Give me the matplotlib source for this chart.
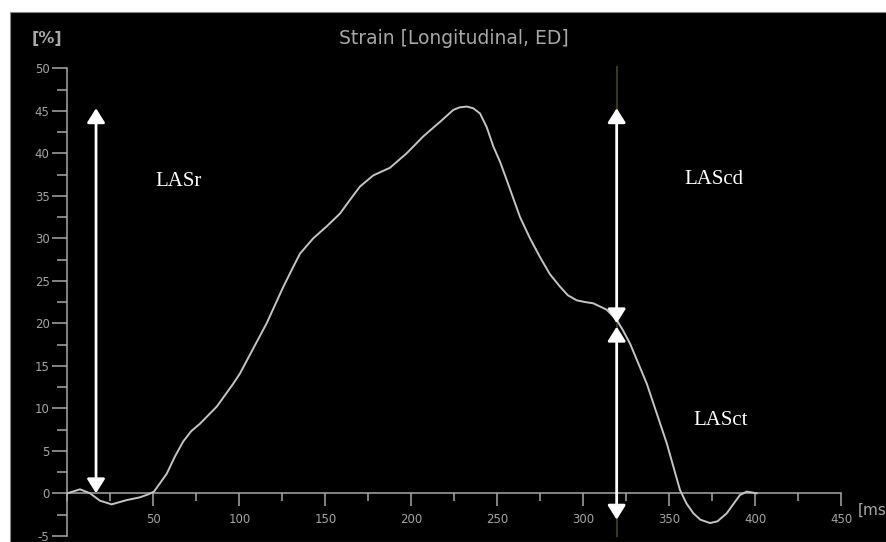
import matplotlib
matplotlib.use("Agg")
import matplotlib.pyplot as plt
from matplotlib.patches import Rectangle
from matplotlib.ticker import MultipleLocator

# ---- data ----
time_ms = [0, 7.4, 13.2, 19, 25.8, 34.5, 42.3, 47.1, 50.4, 57.8, 62.5, 67.4,
           72, 77.2, 86.9, 96.5, 100.4, 108, 115.9, 125.6, 131, 135.3, 143,
           150.8, 158.5, 165, 170.2, 177.9, 187.6, 197.3, 207, 216.7, 224.4,
           228, 232.2, 236, 239.9, 243.8, 247.7, 251.6, 255.4, 263.2, 269,
           274.8, 280.5, 286.5, 291, 296.2, 301, 305.8, 309.5, 313.6, 319.4,
           323, 327.2, 336.9, 348.5, 356.2, 360, 364, 368, 373.7, 378, 383.4,
           387.5, 391.1, 395, 400.8]
strain_pct = [0, 0.47, 0, -0.87, -1.3, -0.8, -0.47, -0.12, 0.2, 2.3, 4.3, 6.1,
              7.3, 8.2, 10.2, 12.9, 14.1, 17, 20, 24.3, 26.5, 28.2, 30.0,
              31.4, 32.9, 34.7, 36.1, 37.4, 38.3, 40.0, 42.0, 43.7, 45.1,
              45.4, 45.5, 45.3, 44.7, 43.1, 40.8, 39.0, 36.9, 32.5, 30.0,
              27.8, 25.8, 24.3, 23.3, 22.7, 22.5, 22.35, 22.0, 21.6, 20.4,
              19.2, 17.6, 12.9, 5.9, 0.4, -1.2, -2.35, -3.1, -3.5, -3.3, -2.35,
              -1.2, -0.2, 0.2, 0]

x_ticks = [50, 100, 150, 200, 250, 300, 350, 400, 450]
y_ticks = [-5, 0, 5, 10, 15, 20, 25, 30, 35, 40, 45, 50]

# measurement markers: (time, from strain, to strain)
lasr = (16.7, 0.0, 45.3)
lascd = (319.4, 20.0, 45.3)
lasct = (319.4, -3.1, 19.6)
marker_time = 319.4

title = "Strain [Longitudinal, ED]"
y_unit = "[%]"
x_unit = "[ms"
labels = ["LASr", "LAScd", "LASct"]

# ---- figure ----
W, H = 887, 542
fig = plt.figure(figsize=(W / 100, H / 100), dpi=100)
fig.patch.set_facecolor("white")
fig.add_artist(Rectangle((10 / W, 0), 1 - 10 / W, 1 - 12 / H,
                         transform=fig.transFigure, facecolor="black",
                         edgecolor="#888888", lw=0.8, zorder=0))

ax = fig.add_axes([67.3 / W, (H - 535.8) / H, 774 / W, 467.5 / H])
ax.set_facecolor("none")
ax.set_xlim(0, 450)
ax.set_ylim(-5, 50)

axis_col = "#a8a8a8"
lab_col = "#a4a4a4"
for s in ["top", "right"]:
    ax.spines[s].set_visible(False)
ax.spines["left"].set_color(axis_col)
ax.spines["left"].set_linewidth(1.1)
ax.spines["bottom"].set_position(("data", 0))
ax.spines["bottom"].set_color(axis_col)
ax.spines["bottom"].set_linewidth(1.1)

ax.set_xticks(x_ticks)
ax.set_xticklabels([str(v) for v in x_ticks])
ax.xaxis.set_minor_locator(MultipleLocator(25))
ax.set_yticks(y_ticks)
ax.set_yticklabels([str(v) for v in y_ticks])
ax.yaxis.set_minor_locator(MultipleLocator(2.5))

ax.tick_params(axis="x", which="major", direction="out", length=9.4, width=1.1,
               color=axis_col, labelcolor=lab_col, labelsize=8.5, pad=4.5)
ax.tick_params(axis="x", which="minor", direction="out", length=5.8, width=1.1,
               color=axis_col)
ax.tick_params(axis="y", which="major", direction="out", length=10.8, width=1.1,
               color=axis_col, labelcolor=lab_col, labelsize=8.5, pad=2)
ax.tick_params(axis="y", which="minor", direction="out", length=7.2, width=1.1,
               color=axis_col)

# faint vertical marker line
ax.plot([marker_time, marker_time], [-5, 50.2], color="#3a3818", lw=1.5,
        zorder=1, clip_on=False)

# strain curve
ax.plot(time_ms, strain_pct, color="#c4c4c4", lw=1.4, zorder=3,
        solid_joinstyle="round")

# arrows
astyle = "<|-|>,head_length=0.43,head_width=0.27"
for (t, y0, y1) in [lasr, lascd, lasct]:
    ax.annotate("", xy=(t, y1), xytext=(t, y0),
                arrowprops=dict(arrowstyle=astyle, color="white", lw=2.0,
                                mutation_scale=20, shrinkA=0, shrinkB=0),
                zorder=4)

serif = ["Liberation Serif", "DejaVu Serif"]
ax.text(64.4, 36.7, labels[0], color="white", fontsize=15, family=serif,
        ha="center", va="center")
ax.text(375.7, 36.9, labels[1], color="white", fontsize=15, family=serif,
        ha="center", va="center")
ax.text(379.8, 8.6, labels[2], color="white", fontsize=15, family=serif,
        ha="center", va="center")

fig.text(454 / W, 1 - 39 / H, title, color="#a8a8a8", fontsize=13.5,
         ha="center", va="center")
fig.text(47 / W, 1 - 38.5 / H, y_unit, color="#a8a8a8", fontsize=11.5,
         ha="center", va="center", fontweight="bold")
fig.text(858 / W, 1 - 510 / H, x_unit, color="#a8a8a8", fontsize=11,
         ha="left", va="center")

fig.savefig("out.png", dpi=100, facecolor=fig.get_facecolor())
